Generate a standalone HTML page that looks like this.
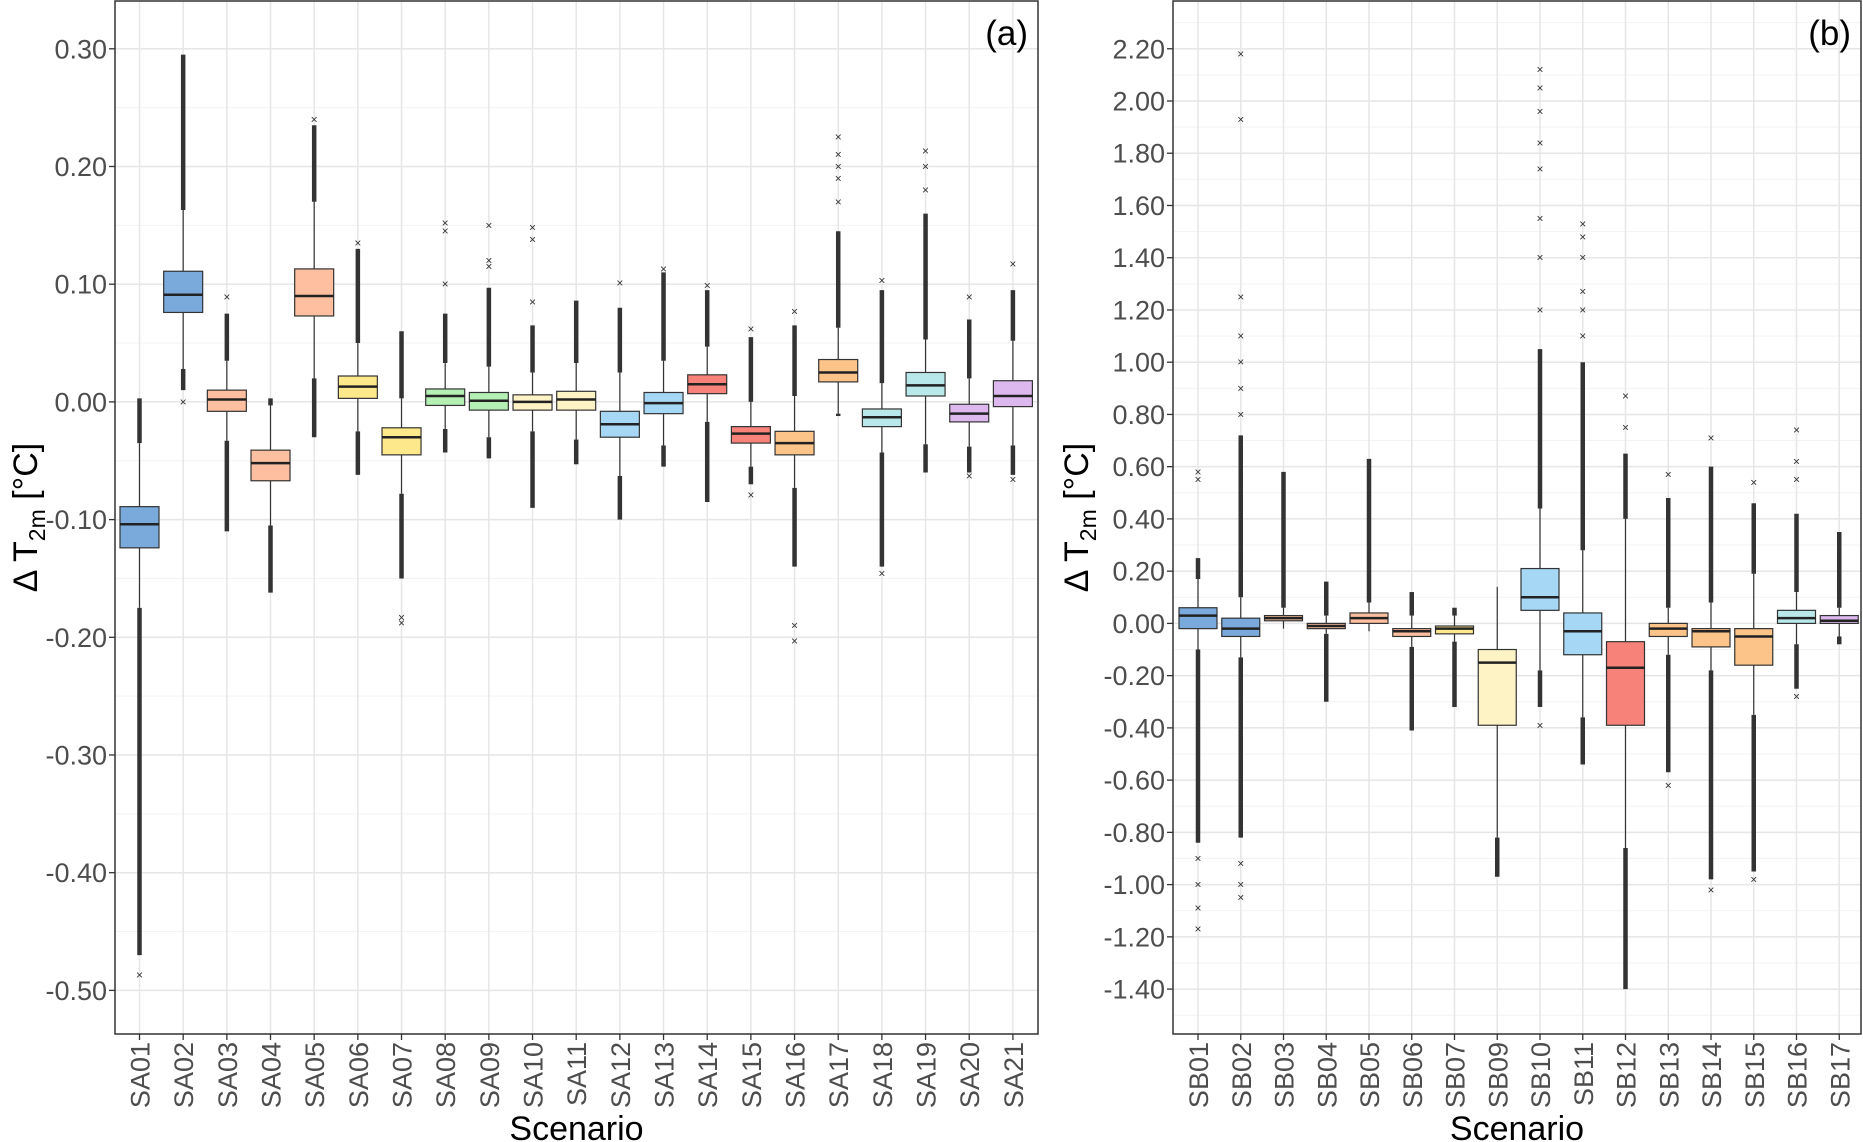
<!DOCTYPE html>
<html><head><meta charset="utf-8"><style>
html,body{margin:0;padding:0;background:#fff;}
svg{display:block;font-family:"Liberation Sans",sans-serif;}
</style></head><body>
<svg id="chart" width="1863" height="1142" viewBox="0 0 1863 1142" xmlns="http://www.w3.org/2000/svg"></svg>
<script>
// ---- Panel (a) data ----
const catsA = ["SA01","SA02","SA03","SA04","SA05","SA06","SA07","SA08","SA09","SA10","SA11","SA12","SA13","SA14","SA15","SA16","SA17","SA18","SA19","SA20","SA21"];
const q1A  = [-0.124,0.076,-0.008,-0.067,0.073,0.003,-0.045,-0.003,-0.007,-0.007,-0.007,-0.030,-0.010,0.007,-0.035,-0.045,0.017,-0.021,0.005,-0.017,-0.004];
const medA = [-0.104,0.091,0.002,-0.052,0.090,0.013,-0.030,0.005,0.001,0.000,0.002,-0.019,-0.001,0.015,-0.027,-0.035,0.025,-0.013,0.014,-0.010,0.005];
const q3A  = [-0.089,0.111,0.010,-0.041,0.113,0.022,-0.022,0.011,0.008,0.006,0.009,-0.008,0.008,0.023,-0.021,-0.025,0.036,-0.006,0.025,-0.002,0.018];
const wloA = [-0.175,0.028,-0.033,-0.105,0.020,-0.025,-0.078,-0.023,-0.030,-0.025,-0.032,-0.063,-0.037,-0.017,-0.055,-0.073,-0.010,-0.043,-0.036,-0.038,-0.037];
const whiA = [-0.035,0.163,0.035,-0.003,0.170,0.050,0.003,0.033,0.030,0.025,0.033,0.025,0.035,0.047,0.000,0.005,0.063,0.016,0.053,0.020,0.052];
const oloA = [-0.470,0.010,-0.110,-0.162,-0.030,-0.062,-0.150,-0.043,-0.048,-0.090,-0.053,-0.100,-0.055,-0.085,-0.070,-0.140,-0.012,-0.140,-0.060,-0.060,-0.062];
const ohiA = [0.003,0.295,0.075,0.003,0.235,0.130,0.060,0.075,0.097,0.065,0.086,0.080,0.110,0.095,0.055,0.065,0.145,0.095,0.160,0.070,0.095];
const sparseA = [[-0.487],[0.000],[0.089],[],[0.240],[0.135],[-0.183,-0.188],[0.100,0.145,0.152],[0.115,0.120,0.150],[0.085,0.138,0.148],[],[0.101],[0.113],[0.099],[-0.079,0.062],[-0.190,-0.203,0.077],[0.170,0.190,0.200,0.210,0.225],[-0.146,0.103],[0.180,0.200,0.213],[-0.063,0.089],[-0.066,0.117]];
const colA = ["#7aaadc","#7aaadc","#fdbf9f","#fdbf9f","#fdbf9f","#fde98c","#fde98c","#b4f0b4","#b4f0b4","#fdf3c4","#fdf3c4","#a6d8f6","#a6d8f6","#f7827a","#f7827a","#fdc48a","#fdc48a","#b9e8eb","#b9e8eb","#dcb8ef","#dcb8ef"];
const ticksA = [0.30,0.20,0.10,0.00,-0.10,-0.20,-0.30,-0.40,-0.50];
const tickLabelsA = ["0.30","0.20","0.10","0.00","-0.10","-0.20","-0.30","-0.40","-0.50"];

// ---- Panel (b) data ----
const catsB = ["SB01","SB02","SB03","SB04","SB05","SB06","SB07","SB09","SB10","SB11","SB12","SB13","SB14","SB15","SB16","SB17"];
const q1B  = [-0.02,-0.05,0.01,-0.02,0.00,-0.05,-0.04,-0.39,0.05,-0.12,-0.39,-0.05,-0.09,-0.16,0.00,0.00];
const medB = [0.03,-0.02,0.02,-0.01,0.02,-0.03,-0.02,-0.15,0.10,-0.03,-0.17,-0.02,-0.03,-0.05,0.02,0.01];
const q3B  = [0.06,0.02,0.03,0.00,0.04,-0.02,-0.01,-0.10,0.21,0.04,-0.07,0.00,-0.02,-0.02,0.05,0.03];
const wloB = [-0.10,-0.13,-0.02,-0.04,-0.03,-0.09,-0.07,-0.82,-0.18,-0.36,-0.86,-0.12,-0.18,-0.35,-0.08,-0.05];
const whiB = [0.17,0.10,0.06,0.03,0.08,0.03,0.03,0.14,0.44,0.28,0.40,0.06,0.08,0.19,0.12,0.06];
const oloB = [-0.84,-0.82,-0.02,-0.30,-0.03,-0.41,-0.32,-0.97,-0.32,-0.54,-1.40,-0.57,-0.98,-0.95,-0.25,-0.08];
const ohiB = [0.25,0.72,0.58,0.16,0.63,0.12,0.06,0.14,1.05,1.00,0.65,0.48,0.60,0.46,0.42,0.35];
const sparseB = [[-0.90,-1.00,-1.09,-1.17,0.55,0.58],[-0.92,-1.00,-1.05,0.80,0.90,1.00,1.10,1.25,1.93,2.18],[],[],[],[],[],[],[-0.39,1.20,1.40,1.55,1.74,1.84,1.96,2.05,2.12],[1.10,1.20,1.27,1.40,1.48,1.53],[0.75,0.87],[-0.62,0.57],[-1.02,0.71],[-0.98,0.54],[-0.28,0.55,0.62,0.74],[]];
const colB = ["#7aaadc","#7aaadc","#fdbf9f","#fdbf9f","#fdbf9f","#fdbf9f","#fde98c","#fdf3c4","#a6d8f6","#a6d8f6","#f7827a","#fdc48a","#fdc48a","#fdc48a","#b9e8eb","#dcb8ef"];
const ticksB = [2.2,2.0,1.8,1.6,1.4,1.2,1.0,0.8,0.6,0.4,0.2,0.0,-0.2,-0.4,-0.6,-0.8,-1.0,-1.2,-1.4];
const tickLabelsB = ["2.20","2.00","1.80","1.60","1.40","1.20","1.00","0.80","0.60","0.40","0.20","0.00","-0.20","-0.40","-0.60","-0.80","-1.00","-1.20","-1.40"];

const NS = "http://www.w3.org/2000/svg";
const svg = document.getElementById("chart");
function mk(tag, attrs, parent){const e=document.createElementNS(NS,tag);for(const k in attrs)e.setAttribute(k,attrs[k]);(parent||svg).appendChild(e);return e;}

function panel(cfg){
  const g = mk("g",{});
  
  
  const {left,right,top,bottom,y0,ppu,x0,dx,bw,cats,q1,med,q3,wlo,whi,olo,ohi,sparse,col,ticks,tickLabels,minorStep,label} = cfg;
  const y = v => y0 - ppu*v;
  const x = i => x0 + dx*i;
  const vmax=(y0-top)/ppu, vmin=(y0-bottom)/ppu;
  for(let v=Math.ceil(vmin/minorStep)*minorStep; v<=vmax; v+=minorStep){
    const l=mk("line",{x1:left,x2:right,y1:y(v),y2:y(v),stroke:"#f3f3f3","stroke-width":1},g);
    
    
  }
  ticks.forEach((t,k)=>{
    const l=mk("line",{x1:left,x2:right,y1:y(t),y2:y(t),stroke:"#e6e6e6","stroke-width":1.5},g);
    
    
    const tk=mk("line",{x1:left-6,x2:left,y1:y(t),y2:y(t),stroke:"#333","stroke-width":1.3},g);
    
    
    const tx=mk("text",{x:left-8,y:y(t)+9.5,"text-anchor":"end","font-size":27,fill:"#4d4d4d"},g);
    
    
    tx.textContent=tickLabels[k];
  });
  cats.forEach((c,i)=>{
    const vl=mk("line",{x1:x(i),x2:x(i),y1:top,y2:bottom,stroke:"#e6e6e6","stroke-width":1.5},g);
    
    
  });
  cats.forEach((c,i)=>{
    const xi=x(i);
    const w=mk("line",{x1:xi,x2:xi,y1:y(wlo[i]),y2:y(whi[i]),stroke:"#333","stroke-width":1.2},g);
    
    
    if(olo[i]<wlo[i]-1e-9){
      const o=mk("line",{x1:xi,x2:xi,y1:y(wlo[i]),y2:y(olo[i]),stroke:"#333","stroke-width":4.5},g);
      
      
    }
    if(ohi[i]>whi[i]+1e-9){
      const o=mk("line",{x1:xi,x2:xi,y1:y(whi[i]),y2:y(ohi[i]),stroke:"#333","stroke-width":4.5},g);
      
      
    }
    sparse[i].forEach(v=>{
      const m=mk("text",{x:xi,y:y(v)+4,"text-anchor":"middle","font-size":12,fill:"#333"},g);
      
      
      m.textContent="×";
    });
    const b=mk("rect",{x:xi-bw/2,y:y(q3[i]),width:bw,height:Math.max(1,y(q1[i])-y(q3[i])),fill:col[i],stroke:"#333","stroke-width":1.2},g);
    
    
    const md=mk("line",{x1:xi-bw/2,x2:xi+bw/2,y1:y(med[i]),y2:y(med[i]),stroke:"#222","stroke-width":2.5},g);
    
    
    const tk=mk("line",{x1:xi,x2:xi,y1:bottom,y2:bottom+6,stroke:"#333","stroke-width":1.3},g);
    
    
    const tx=mk("text",{x:0,y:0,"text-anchor":"end","font-size":27,fill:"#4d4d4d",transform:`translate(${xi+10},${bottom+8}) rotate(-90)`},g);
    
    
    tx.textContent=c;
  });
  const fr=mk("rect",{x:left,y:top,width:right-left,height:bottom-top,fill:"none",stroke:"#333","stroke-width":1.5},g);
  
  
  const lb=mk("text",{x:right-10,y:top+44,"text-anchor":"end","font-size":35,fill:"#000"},g);
  
  
  lb.textContent=label;
  const xt=mk("text",{x:(left+right)/2,y:1140,"text-anchor":"middle","font-size":34,fill:"#000"},g);
  
  
  xt.textContent="Scenario";
  const yt=mk("text",{x:0,y:0,"text-anchor":"middle","font-size":34,fill:"#000",transform:`translate(${cfg.ytx},${(top+bottom)/2}) rotate(-90)`},g);
  
  
  yt.innerHTML='Δ T<tspan font-size="23" dy="8">2m</tspan><tspan dy="-8"> [°C]</tspan>';
}

panel({name:"panel-a",left:115,right:1038,top:1,bottom:1034,y0:401.9,ppu:1177,x0:139.5,dx:43.67,bw:39,
  cats:catsA,q1:q1A,med:medA,q3:q3A,wlo:wloA,whi:whiA,olo:oloA,ohi:ohiA,sparse:sparseA,col:colA,ticks:ticksA,tickLabels:tickLabelsA,minorStep:0.05,label:"(a)",ytx:37});
panel({name:"panel-b",left:1173,right:1861,top:1,bottom:1034,y0:623.4,ppu:261.2,x0:1198,dx:42.75,bw:38,
  cats:catsB,q1:q1B,med:medB,q3:q3B,wlo:wloB,whi:whiB,olo:oloB,ohi:ohiB,sparse:sparseB,col:colB,ticks:ticksB,tickLabels:tickLabelsB,minorStep:0.1,label:"(b)",ytx:1088});
</script>
</body></html>
